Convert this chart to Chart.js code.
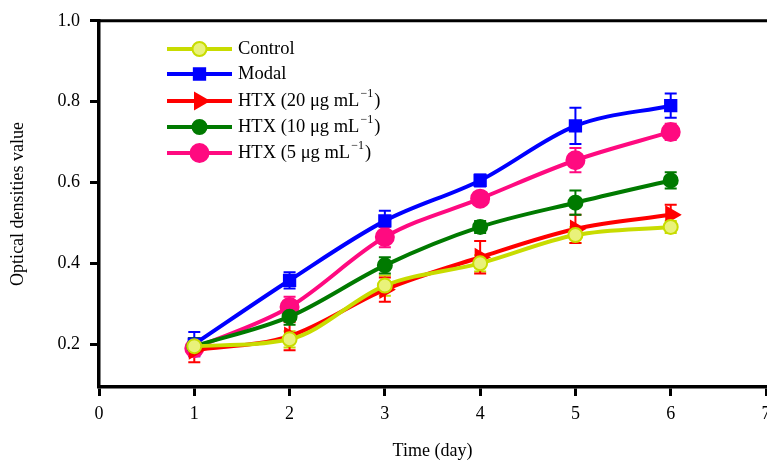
<!DOCTYPE html>
<html>
<head>
<meta charset="utf-8">
<script src="https://cdn.jsdelivr.net/npm/chart.js@4.4.0/dist/chart.umd.min.js"></script>
<style>
  html, body { margin: 0; padding: 0; background: #fff; overflow: hidden; }
  #wrap { width: 767px; height: 464px; overflow: hidden; }
</style>
</head>
<body>
<div id="wrap"><canvas id="odChart" width="800" height="464"></canvas></div>
<script>
// données
const days = [1, 2, 3, 4, 5, 6];
const yTicks = [0.2, 0.4, 0.6, 0.8, 1.0];
const xTicks = [0, 1, 2, 3, 4, 5, 6, 7];

const control = [0.195, 0.212, 0.345, 0.400, 0.470, 0.490];
const modal   = [0.200, 0.358, 0.505, 0.605, 0.740, 0.790];
const htx20   = [0.185, 0.220, 0.335, 0.415, 0.485, 0.520];
const htx10   = [0.195, 0.268, 0.395, 0.490, 0.550, 0.605];
const htx5    = [0.190, 0.292, 0.465, 0.560, 0.655, 0.725];

const controlErr = [0.02, 0.02, 0.025, 0.02, 0.02, 0.015];
const modalErr   = [0.03, 0.02, 0.025, 0.015, 0.045, 0.03];
const htx20Err   = [0.03, 0.035, 0.03, 0.04, 0.035, 0.025];
const htx10Err   = [0.02, 0.02, 0.02, 0.015, 0.03, 0.02];
const htx5Err    = [0.02, 0.025, 0.025, 0.015, 0.03, 0.02];

const serif = "'Liberation Serif', 'Times New Roman', serif";

function toPoints(vals) {
    return days.map((d, i) => ({ x: d, y: vals[i] }));
}

function makeSet(label, sup, vals, errs, color, fill, style, radius, rotation) {
    return {
        label: label,
        sup: sup,
        data: toPoints(vals),
        errors: errs,
        borderColor: color,
        backgroundColor: fill,
        pointBackgroundColor: fill,
        pointBorderColor: color,
        pointBorderWidth: 2,
        pointStyle: style,
        pointRadius: radius,
        pointRotation: rotation,
        borderWidth: 4,
        cubicInterpolationMode: 'monotone',
        fill: false
    };
}

const datasets = [
    makeSet('Control', null, control, controlErr, '#c8dc00', '#e9f27a', 'circle', 7, 0),
    makeSet('Modal', null, modal, modalErr, '#0000ff', '#0000ff', 'rect', 8, 0),
    makeSet('HTX (20 μg mL', ')', htx20, htx20Err, '#ff0000', '#ff0000', 'triangle', 9, 90),
    makeSet('HTX (10 μg mL', ')', htx10, htx10Err, '#007a00', '#007a00', 'circle', 7, 0),
    makeSet('HTX (5 μg mL', ')', htx5, htx5Err, '#ff0a80', '#ff0a80', 'circle', 9, 0)
];

// barres d'erreur
const errorBars = {
    id: 'errorBars',
    beforeDatasetsDraw(chart) {
        const ctx = chart.ctx;
        const xs = chart.scales.x, ys = chart.scales.y;
        ctx.save();
        chart.data.datasets.forEach(ds => {
            ctx.strokeStyle = ds.borderColor;
            ctx.lineWidth = 2;
            ds.data.forEach((p, i) => {
                const e = ds.errors[i];
                const px = xs.getPixelForValue(p.x);
                const top = ys.getPixelForValue(p.y + e);
                const bot = ys.getPixelForValue(p.y - e);
                ctx.beginPath();
                ctx.moveTo(px, top); ctx.lineTo(px, bot);
                ctx.moveTo(px - 6, top); ctx.lineTo(px + 6, top);
                ctx.moveTo(px - 6, bot); ctx.lineTo(px + 6, bot);
                ctx.stroke();
            });
        });
        ctx.restore();
    }
};

// cadre du haut
const topFrame = {
    id: 'topFrame',
    afterDraw(chart) {
        const { ctx, chartArea } = chart;
        ctx.save();
        ctx.strokeStyle = '#000';
        ctx.lineWidth = 3;
        ctx.beginPath();
        ctx.moveTo(chartArea.left - 1.5, chartArea.top);
        ctx.lineTo(chartArea.right + 40, chartArea.top);
        ctx.stroke();
        ctx.restore();
    }
};

// légende dans la zone du graphique
const insideLegend = {
    id: 'insideLegend',
    afterDraw(chart) {
        const ctx = chart.ctx;
        const x0 = 167, x1 = 232, tx = 238;
        const rows = [49, 74, 101, 127, 153];
        ctx.save();
        chart.data.datasets.forEach((ds, i) => {
            const y = rows[i];
            ctx.strokeStyle = ds.borderColor;
            ctx.lineWidth = 4;
            ctx.beginPath();
            ctx.moveTo(x0, y); ctx.lineTo(x1, y);
            ctx.stroke();
            ctx.fillStyle = ds.pointBackgroundColor;
            ctx.strokeStyle = ds.pointBorderColor;
            ctx.lineWidth = 2;
            Chart.helpers.drawPoint(ctx, {
                pointStyle: ds.pointStyle,
                radius: ds.pointRadius,
                rotation: ds.pointRotation,
                borderWidth: 2
            }, (x0 + x1) / 2, y);
            ctx.fillStyle = '#000';
            ctx.textBaseline = 'middle';
            ctx.textAlign = 'left';
            ctx.font = '18.5px ' + serif;
            ctx.fillText(ds.label, tx, y);
            if (ds.sup) {
                let cx = tx + ctx.measureText(ds.label).width;
                ctx.font = '12px ' + serif;
                ctx.fillText('\u22121', cx + 1, y - 7);
                cx += ctx.measureText('\u22121').width + 2;
                ctx.font = '18.5px ' + serif;
                ctx.fillText(ds.sup, cx, y);
            }
        });
        ctx.restore();
    }
};

new Chart(document.getElementById('odChart'), {
    type: 'line',
    data: { datasets: datasets },
    options: {
        responsive: false,
        animation: false,
        devicePixelRatio: 1,
        layout: { padding: { left: 0, right: 34, top: 20, bottom: 0 } },
        plugins: {
            legend: { display: false },
            tooltip: { enabled: false }
        },
        scales: {
            x: {
                type: 'linear',
                min: 0,
                max: 7,
                afterBuildTicks: s => { s.ticks = xTicks.map(v => ({ value: v })); },
                afterFit: s => { s.height = 77; },
                grid: { display: true, drawOnChartArea: false, drawTicks: true, tickLength: 9, tickWidth: 3, color: '#000' },
                border: { display: true, color: '#000', width: 3.5 },
                ticks: { color: '#000', padding: 7, maxRotation: 0, font: { family: serif, size: 18 } },
                title: { display: true, text: 'Time (day)', color: '#000', padding: { top: 0, bottom: 2 }, font: { family: serif, size: 18 } }
            },
            y: {
                min: 0.094,
                max: 1.0,
                afterBuildTicks: s => { s.ticks = yTicks.map(v => ({ value: v })); },
                afterFit: s => { s.width = 99; },
                grid: { display: true, drawOnChartArea: false, drawTicks: true, tickLength: 9, tickWidth: 3, color: '#000' },
                border: { display: true, color: '#000', width: 3.5 },
                ticks: { color: '#000', padding: 10, font: { family: serif, size: 18 }, callback: v => v.toFixed(1) },
                title: { display: true, text: 'Optical densities value', color: '#000', padding: { top: 7, bottom: 0 }, font: { family: serif, size: 18 } }
            }
        }
    },
    plugins: [errorBars, topFrame, insideLegend]
});
</script>
</body>
</html>
